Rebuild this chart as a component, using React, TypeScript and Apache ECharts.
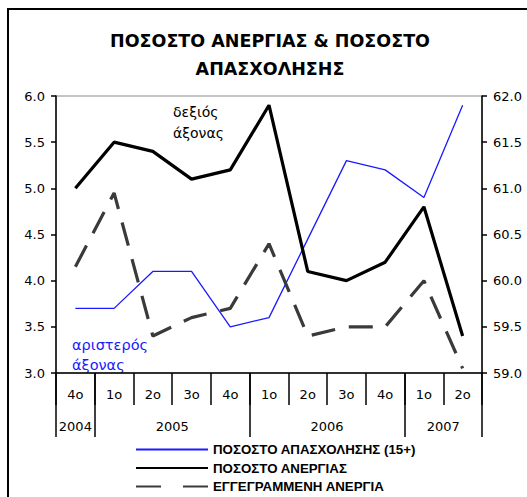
import React, { useEffect, useRef } from "react";
import * as echarts from "echarts";

const titleLines = ["ΠΟΣΟΣΤΟ ΑΝΕΡΓΙΑΣ & ΠΟΣΟΣΤΟ", "ΑΠΑΣΧΟΛΗΣΗΣ"];
const quarters = ["4ο", "1ο", "2ο", "3ο", "4ο", "1ο", "2ο", "3ο", "4ο", "1ο", "2ο"];
const years = ["2004", "2005", "2006", "2007"];
const quartersPerYear = [1, 4, 4, 2];

const seriesNames = [
  "ΠΟΣΟΣΤΟ ΑΠΑΣΧΟΛΗΣΗΣ (15+)",
  "ΠΟΣΟΣΤΟ ΑΝΕΡΓΙΑΣ",
  "ΕΓΓΕΓΡΑΜΜΕΝΗ ΑΝΕΡΓΙΑ",
];
// left axis
const employment = [3.7, 3.7, 4.1, 4.1, 3.5, 3.6, 4.45, 5.3, 5.2, 4.9, 5.9];
// right axis
const unemployment = [61.0, 61.5, 61.4, 61.1, 61.2, 61.9, 60.1, 60.0, 60.2, 60.8, 59.4];
// left axis
const registered = [4.15, 4.95, 3.4, 3.6, 3.7, 4.4, 3.4, 3.5, 3.5, 4.0, 3.05];

const leftAxis = { min: 3, max: 6, interval: 0.5 };
const rightAxis = { min: 59, max: 62, interval: 0.5 };

const noteRight = ["δεξιός", "άξονας"];
const noteLeft = ["αριστερός", "άξονας"];

export default function App() {
  const ref = useRef<HTMLDivElement>(null);

  useEffect(() => {
    if (!ref.current) return;
    const chart = echarts.init(ref.current, null, { renderer: "svg" });

    // build year slot axis (2*n+1 points at column centres and boundaries)
    const slotCount = quarters.length * 2 + 1;
    const yearSlots: string[] = new Array(slotCount).fill("");
    const boundaryIdx: number[] = [];
    let start = 0;
    years.forEach((y, i) => {
      const c = quartersPerYear[i];
      yearSlots[2 * start + c] = y;
      boundaryIdx.push(2 * start);
      start += c;
    });
    boundaryIdx.push(2 * start);

    const axisFont = { fontFamily: "DejaVu Sans", fontSize: 13, color: "#000" };
    const blackLine = { lineStyle: { color: "#000", width: 1.5 } };
    const hiddenSymbol = { opacity: 0 };

    chart.setOption({
      animation: false,
      backgroundColor: "#fff",
      grid: {
        left: 56,
        right: 45,
        top: 96,
        bottom: 124,
        show: true,
        borderColor: "#8a8a8a",
        borderWidth: 1,
      },
      legend: {
        orient: "vertical",
        left: 135,
        top: 443,
        height: 54,
        itemWidth: 72,
        itemHeight: 13,
        itemGap: 5.5,
        padding: 0,
        textStyle: {
          fontFamily: "Liberation Sans",
          fontWeight: "bold",
          fontSize: 13.3,
          lineHeight: 13,
          color: "#000",
        },
        data: [
          { name: seriesNames[0], itemStyle: hiddenSymbol },
          { name: seriesNames[1], itemStyle: hiddenSymbol },
          { name: seriesNames[2], itemStyle: hiddenSymbol, lineStyle: { type: [25, 22] } },
        ],
      },
      xAxis: [
        {
          type: "category",
          data: quarters,
          boundaryGap: true,
          axisLine: blackLine,
          axisTick: { show: true, interval: 0, length: 32, lineStyle: { color: "#000", width: 1.5 } },
          axisLabel: { ...axisFont, interval: 0, margin: 15 },
          splitLine: { show: false },
        },
        {
          type: "category",
          data: yearSlots,
          boundaryGap: false,
          position: "bottom",
          axisLine: { show: false },
          axisTick: {
            show: true,
            interval: (idx: number) => boundaryIdx.indexOf(idx) >= 0,
            length: 64,
            lineStyle: { color: "#000", width: 1.5 },
          },
          axisLabel: { ...axisFont, interval: 0, margin: 47 },
          splitLine: { show: false },
        },
      ],
      yAxis: [
        {
          type: "value",
          position: "left",
          ...leftAxis,
          axisLine: { show: true, ...blackLine },
          axisTick: { show: true, length: 5, lineStyle: { color: "#000", width: 1.5 } },
          axisLabel: { ...axisFont, margin: 11, formatter: (v: number) => v.toFixed(1) },
          splitLine: { show: false },
        },
        {
          type: "value",
          position: "right",
          ...rightAxis,
          axisLine: { show: true, ...blackLine },
          axisTick: { show: true, length: 5, lineStyle: { color: "#000", width: 1.5 } },
          axisLabel: { ...axisFont, margin: 11, formatter: (v: number) => v.toFixed(1) },
          splitLine: { show: false },
        },
      ],
      series: [
        {
          name: seriesNames[0],
          type: "line",
          xAxisIndex: 0,
          yAxisIndex: 0,
          data: employment,
          symbol: "none",
          lineStyle: { color: "#1a1aff", width: 1.3 },
          itemStyle: { color: "#1a1aff" },
        },
        {
          name: seriesNames[1],
          type: "line",
          xAxisIndex: 0,
          yAxisIndex: 1,
          data: unemployment,
          symbol: "none",
          lineStyle: { color: "#000", width: 3.2 },
          itemStyle: { color: "#000" },
        },
        {
          name: seriesNames[2],
          type: "line",
          xAxisIndex: 0,
          yAxisIndex: 0,
          data: registered,
          symbol: "none",
          lineStyle: { color: "#3a3a3a", width: 3.2, type: [24, 14] },
          itemStyle: { color: "#3a3a3a" },
        },
      ],
      graphic: [
        {
          type: "rect",
          shape: { x: 8, y: 9, width: 560, height: 520 },
          style: { fill: "none", stroke: "#000", lineWidth: 2 },
          silent: true,
        },
        ...titleLines.map((t, i) => ({
          type: "text",
          x: 270,
          y: 41 + i * 27.5,
          style: {
            text: t,
            fontFamily: "DejaVu Sans",
            fontWeight: "bold",
            fontSize: 17.5,
            fill: "#000",
            align: "center",
            verticalAlign: "middle",
          },
        })),
        ...noteRight.map((t, i) => ({
          type: "text",
          x: 173,
          y: 112 + i * 21,
          style: {
            text: t,
            fontFamily: "DejaVu Sans",
            fontSize: 14,
            fill: "#000",
            align: "left",
            verticalAlign: "middle",
          },
        })),
        ...noteLeft.map((t, i) => ({
          type: "text",
          x: 72,
          y: 345 + i * 20,
          style: {
            text: t,
            fontFamily: "DejaVu Sans",
            fontSize: 14.5,
            fill: "#1a1aff",
            align: "left",
            verticalAlign: "middle",
          },
        })),
      ],
    });

    return () => chart.dispose();
  }, []);

  return (
    <div
      ref={ref}
      style={{ position: "fixed", left: 0, top: 0, width: 527, height: 497, background: "#fff" }}
    />
  );
}
